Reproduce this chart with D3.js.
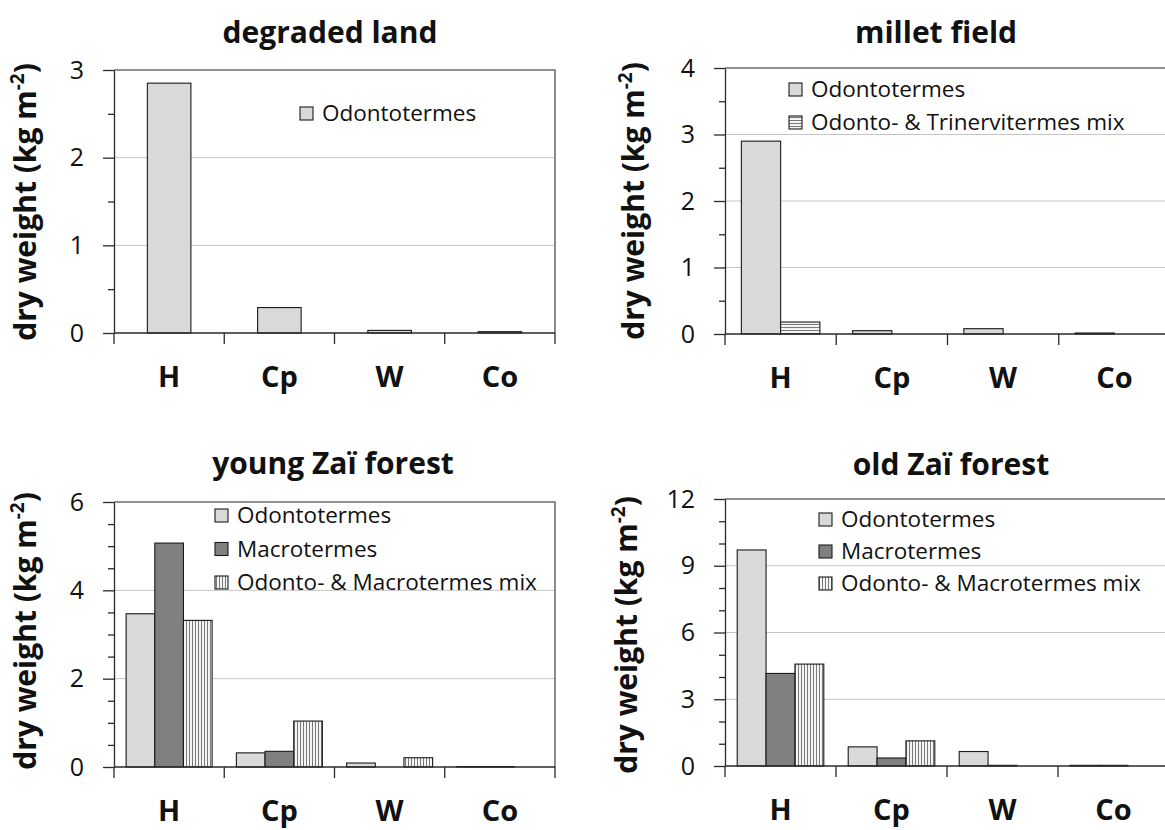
<!DOCTYPE html>
<html>
<head>
<meta charset="utf-8">
<script src="https://cdn.jsdelivr.net/npm/d3@7"></script>
<style>
  body { margin: 0; background: #fff; }
  svg { display: block; }
  text { font-family: "Open Sans", Lato, sans-serif; fill: #111; }
</style>
</head>
<body>
<svg id="chart" width="1165" height="830"></svg>
<script>
// ---- data -------------------------------------------------------------
const categories = ["H", "Cp", "W", "Co"];
const panelTitles = ["degraded land", "millet field", "young Zaï forest", "old Zaï forest"];
const seriesLabels = {
  odonto: "Odontotermes",
  macro: "Macrotermes",
  odontoMacro: "Odonto- & Macrotermes mix",
  odontoTriner: "Odonto- & Trinervitermes mix"
};

// dry weight of termite mounds (kg m-2) per category
const degradedOdonto = [2.85, 0.29, 0.03, 0.015];

const milletOdonto = [2.90, 0.05, 0.08, 0.015];
const milletOdontoTriner = [0.18, 0, 0, 0];

const youngOdonto = [3.47, 0.32, 0.09, 0.01];
const youngMacro = [5.07, 0.355, 0, 0.01];
const youngOdontoMacro = [3.32, 1.04, 0.21, 0];

const oldOdonto = [9.71, 0.86, 0.65, 0.03];
const oldMacro = [4.16, 0.36, 0.03, 0.03];
const oldOdontoMacro = [4.58, 1.13, 0, 0];

// y-axis tick labels
const degradedTicks = [0, 1, 2, 3];
const milletTicks = [0, 1, 2, 3, 4];
const youngTicks = [0, 2, 4, 6];
const oldTicks = [0, 3, 6, 9, 12];

// ---- drawing ----------------------------------------------------------
const svg = d3.select("#chart");
const defs = svg.append("defs");

// narrow vertical stripes
const vp = defs.append("pattern").attr("id", "vstripe")
  .attr("patternUnits", "userSpaceOnUse").attr("width", 3).attr("height", 3);
vp.append("rect").attr("width", 3).attr("height", 3).attr("fill", "#f4f4f4");
vp.append("rect").attr("width", 1).attr("height", 3).attr("fill", "#7a7a7a");

// narrow horizontal stripes
const hp = defs.append("pattern").attr("id", "hstripe")
  .attr("patternUnits", "userSpaceOnUse").attr("width", 3).attr("height", 3);
hp.append("rect").attr("width", 3).attr("height", 3).attr("fill", "#f4f4f4");
hp.append("rect").attr("width", 3).attr("height", 1).attr("fill", "#7a7a7a");

const fills = {
  odonto: "#d9d9d9",
  macro: "#808080",
  odontoMacro: "url(#vstripe)",
  odontoTriner: "url(#hstripe)"
};
const barFrac = { 1: 0.395, 2: 0.353, 3: 0.26 };

function drawPanel(cfg) {
  const g = svg.append("g");
  const x = d3.scaleBand().domain(categories).range([cfg.left, cfg.right]);
  const yMax = d3.max(cfg.ticks);
  const y = d3.scaleLinear().domain([0, yMax]).range([cfg.bottom, cfg.top]);

  // horizontal gridlines
  g.selectAll(".grid")
    .data(cfg.ticks.filter(t => t > 0 && t < yMax))
    .join("line")
    .attr("x1", cfg.left).attr("x2", cfg.right)
    .attr("y1", d => y(d)).attr("y2", d => y(d))
    .attr("stroke", "#c4c4c4").attr("stroke-width", 1);

  // plot-area frame (top and right)
  g.append("path")
    .attr("d", `M${cfg.left},${y(yMax)}H${cfg.right}V${y(0)}`)
    .attr("fill", "none").attr("stroke", "#6e6e6e").attr("stroke-width", 1.6);

  // bars
  const keys = cfg.series.map(s => s.key);
  const bw = x.bandwidth() * barFrac[keys.length];
  const xs = d3.scaleBand().domain(keys)
    .range([-bw * keys.length / 2, bw * keys.length / 2]);
  cfg.series.forEach(s => {
    g.append("g").selectAll("rect")
      .data(s.values.map((v, i) => ({ c: categories[i], v })))
      .join("rect")
      .attr("x", d => x(d.c) + x.bandwidth() / 2 + xs(s.key))
      .attr("width", xs.bandwidth())
      .attr("y", d => y(d.v))
      .attr("height", d => y(0) - y(d.v))
      .attr("fill", fills[s.key])
      .attr("stroke", "#1a1a1a").attr("stroke-width", 1.1);
  });

  // y axis with major ticks and labels
  const ya = g.append("g").attr("transform", `translate(${cfg.left},0)`)
    .call(d3.axisLeft(y).tickValues(cfg.ticks).tickSize(11).tickSizeOuter(0)
      .tickPadding(19).tickFormat(d3.format("d")));
  ya.select(".domain").attr("stroke", "#2a2a2a").attr("stroke-width", 1.3);
  ya.selectAll(".tick line").attr("stroke", "#2a2a2a").attr("stroke-width", 1.3);
  ya.selectAll(".tick text")
    .style("font-family", "'Open Sans', Lato, sans-serif")
    .attr("font-size", 25).attr("fill", "#111");

  // minor ticks
  const minor = d3.range(0, yMax + 1e-9, cfg.minorStep).filter(v => !cfg.ticks.includes(v));
  g.append("g").attr("transform", `translate(${cfg.left},0)`)
    .call(d3.axisLeft(y).tickValues(minor).tickSize(6).tickSizeOuter(0).tickFormat(""))
    .call(a => a.select(".domain").remove())
    .call(a => a.selectAll(".tick line").attr("stroke", "#2a2a2a").attr("stroke-width", 1.3));

  // x axis: baseline and tick marks between categories
  g.append("line")
    .attr("x1", cfg.left).attr("x2", cfg.right)
    .attr("y1", y(0)).attr("y2", y(0))
    .attr("stroke", "#2a2a2a").attr("stroke-width", 1.3);
  const bounds = categories.map(c => x(c)).concat([cfg.right]);
  g.selectAll(".xtick").data(bounds).join("line")
    .attr("x1", d => d).attr("x2", d => d)
    .attr("y1", y(0)).attr("y2", y(0) + 11)
    .attr("stroke", "#2a2a2a").attr("stroke-width", 1.3);

  // category labels
  g.selectAll(".cat").data(categories).join("text")
    .attr("x", d => x(d) + x.bandwidth() / 2)
    .attr("y", y(0) + 54)
    .attr("text-anchor", "middle")
    .attr("font-size", 29).attr("font-weight", "bold")
    .text(d => d);

  // title
  g.append("text")
    .attr("x", cfg.titleX).attr("y", cfg.titleY)
    .attr("text-anchor", "middle")
    .attr("font-size", 30).attr("font-weight", "bold")
    .text(cfg.title);

  // y-axis label
  const yl = g.append("text")
    .attr("transform", `translate(${cfg.ylabelX},${cfg.ylabelY}) rotate(-90)`)
    .attr("text-anchor", "middle")
    .attr("font-size", 30).attr("font-weight", "bold");
  yl.append("tspan").text("dry weight (kg m");
  yl.append("tspan").attr("font-size", 19).attr("dy", -12).text("-2");
  yl.append("tspan").attr("dy", 12).text(")");

  // legend
  const lg = g.append("g");
  cfg.series.forEach((s, i) => {
    const by = cfg.legendY + i * cfg.legendDy;
    lg.append("rect")
      .attr("x", cfg.legendX).attr("y", by - 14)
      .attr("width", 13).attr("height", 13)
      .attr("fill", fills[s.key]).attr("stroke", "#1a1a1a").attr("stroke-width", 1.1);
    lg.append("text")
      .attr("x", cfg.legendX + 22).attr("y", by)
      .attr("font-size", 22.5)
      .text(seriesLabels[s.key]);
  });
}

drawPanel({
  title: panelTitles[0], ticks: degradedTicks, minorStep: 0.5,
  series: [{ key: "odonto", values: degradedOdonto }],
  left: 114, right: 555, top: 70, bottom: 333,
  titleX: 330, titleY: 43, ylabelX: 36, ylabelY: 202,
  legendX: 300, legendY: 121, legendDy: 33
});

drawPanel({
  title: panelTitles[1], ticks: milletTicks, minorStep: 0.5,
  series: [{ key: "odonto", values: milletOdonto },
           { key: "odontoTriner", values: milletOdontoTriner }],
  left: 725, right: 1170, top: 68, bottom: 334,
  titleX: 936, titleY: 43, ylabelX: 644, ylabelY: 201,
  legendX: 789, legendY: 97, legendDy: 33
});

drawPanel({
  title: panelTitles[2], ticks: youngTicks, minorStep: 0.5,
  series: [{ key: "odonto", values: youngOdonto },
           { key: "macro", values: youngMacro },
           { key: "odontoMacro", values: youngOdontoMacro }],
  left: 114, right: 555, top: 502, bottom: 767,
  titleX: 333, titleY: 474, ylabelX: 36, ylabelY: 631,
  legendX: 215, legendY: 523, legendDy: 33.5
});

drawPanel({
  title: panelTitles[3], ticks: oldTicks, minorStep: 1,
  series: [{ key: "odonto", values: oldOdonto },
           { key: "macro", values: oldMacro },
           { key: "odontoMacro", values: oldOdontoMacro }],
  left: 725, right: 1169, top: 499, bottom: 766,
  titleX: 951, titleY: 475, ylabelX: 637, ylabelY: 635,
  legendX: 819, legendY: 527, legendDy: 32
});
</script>
</body>
</html>
